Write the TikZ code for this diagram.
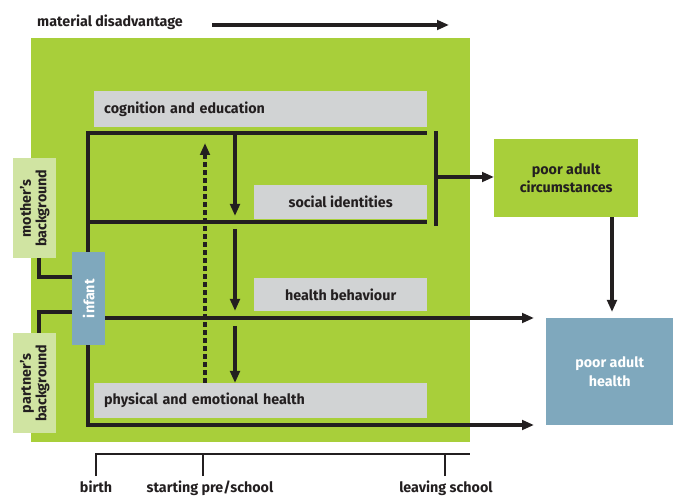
\documentclass[tikz,border=0pt]{standalone}
\usepackage{fontspec}
\setmainfont{Fira Sans}
\usetikzlibrary{arrows.meta}
\definecolor{lime}{HTML}{A8CF3A}
\definecolor{paleg}{HTML}{D0E4A2}
\definecolor{greybox}{HTML}{D1D3D4}
\definecolor{steel}{HTML}{7FA8BD}
\definecolor{ink}{HTML}{231F20}
\tikzset{
  txt/.style={font=\bfseries\fontsize{14.3}{18.5}\selectfont, text=ink},
  rtxt/.style={font=\bfseries\fontsize{14.3}{15.5}\selectfont, text=ink},
  gbox/.style={fill=greybox, draw=none, anchor=north west, inner sep=0pt, txt},
  bar/.style={draw=ink, line width=3.8pt},
  arr/.style={bar, -{Triangle[length=12pt,width=9.5pt]}},
  thin/.style={draw=ink, line width=1.3pt}
}
\begin{document}
\begin{tikzpicture}[x=1pt,y=-1pt]
\useasboundingbox (0,0) rectangle (673,497);
% big green field
\fill[lime] (31,38) rectangle (470,442);
% title
\node[txt, anchor=west, inner sep=0pt] (md) at (37,22) {material disadvantage};
\coordinate (mdA) at (212,25);
\coordinate (mdB) at (449,25);
\draw[arr] (mdA) -- (mdB);

% grey boxes
\node[gbox, minimum width=333pt, minimum height=36pt, text width=313pt, align=left] (cog) at (94,91) {cognition and education};
\node[gbox, minimum width=173pt, minimum height=34pt, align=center] (soc) at (254,185) {social identities};
\node[gbox, minimum width=173pt, minimum height=33pt, align=center] (hb) at (254,278) {health behaviour};
\node[gbox, minimum width=333pt, minimum height=35pt, text width=313pt, align=left] (phys) at (94,383) {physical and emotional health};

% frame lines
\coordinate (tl) at (86,133);
\coordinate (tr) at (427,133);
\coordinate (ml) at (88,222);
\coordinate (mr) at (427,222);
\coordinate (bl) at (88,425);
\coordinate (bb) at (534,425);
\draw[bar] (tl) -- (tr);
\draw[bar] (ml) -- (mr);
\draw[bar] (88,131) -- (88,427);
\draw[arr] (86,425) -- (bb);

% bracket to adult circumstances
\coordinate (brT) at (436,131);
\coordinate (brB) at (436,226);
\coordinate (brM) at (436,177);
\draw[bar] (brT) -- (brB);

% outside boxes
\node[fill=lime, anchor=north west, minimum width=144pt, minimum height=78pt, inner sep=0pt, txt, align=center] (pac) at (494,139) {poor adult\\circumstances};
\node[fill=steel, anchor=north west, minimum width=127pt, minimum height=107pt, inner sep=0pt, txt, text=white, align=center] (pah) at (546,318) {poor adult\\health};
\draw[arr] (brM) -- (pac.west |- brM);
\draw[arr] (pac.south -| 612,0) -- (612,312);

% background boxes
\node[fill=paleg, anchor=north west, minimum width=43pt, minimum height=100pt, inner sep=0pt] (mom) at (13,158) {};
\node[rtxt, rotate=90, align=center] at (mom.center) {mother’s\\background};
\node[fill=paleg, anchor=north west, minimum width=43pt, minimum height=100pt, inner sep=0pt] (par) at (13,333) {};
\node[rtxt, rotate=90, align=center] at (par.center) {partner’s\\background};

% connectors to infant
\coordinate (mc) at (39,277);
\coordinate (pc) at (39,312);
\draw[bar] (39,258) -- (mc) -- (74,277);
\draw[bar] (39,333) -- (pc) -- (74,312);
% infant line
\draw[arr] (100,318) -- (534,318);

% infant box
\node[fill=steel, anchor=north west, minimum width=33pt, minimum height=93pt, inner sep=0pt] (inf) at (72,252) {};
\node[txt, text=white, rotate=90] at (inf.center) {infant};

% vertical arrows
\draw[arr] (235,131) -- (235,216);
\draw[arr] (235,229) -- (235,311);
\draw[arr] (235,326) -- (235,383);
\draw[bar, dash pattern=on 4.5pt off 3.5pt, -{Triangle[length=12pt,width=9.5pt]}] (205,383) -- (205,143);

% timeline
\coordinate (t0) at (96,476);
\coordinate (t1) at (203,476);
\coordinate (t2) at (445,476);
\draw[thin] (t0) -- (96,454) -- (470,454);
\draw[thin] (t1) -- (203,454);
\draw[thin] (t2) -- (445,454);
\node[txt, anchor=base] (lb) at (96,493) {birth};
\node[txt, anchor=base] (ls) at (210,493) {starting pre/school};
\node[txt, anchor=base] (ll) at (446,493) {leaving school};
\end{tikzpicture}
\end{document}
